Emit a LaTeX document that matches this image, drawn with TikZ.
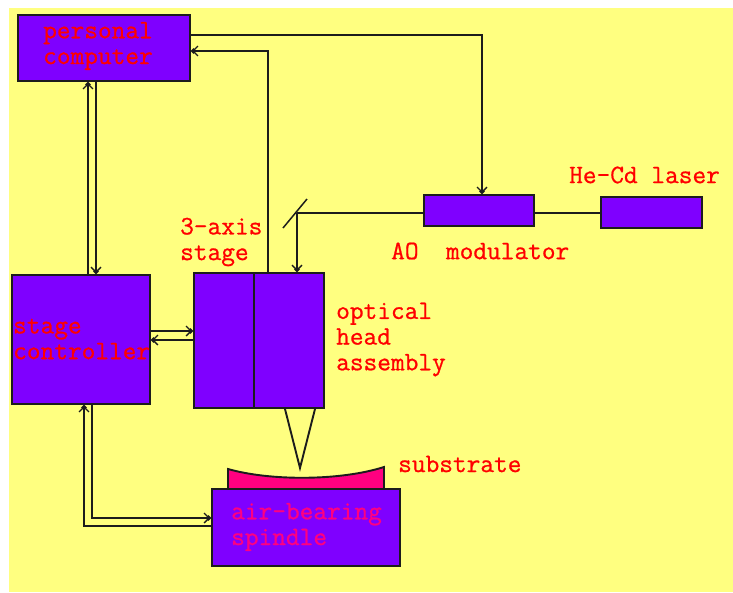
\documentclass[tikz,border=0pt]{standalone}
\usepackage{fontspec}
\setmainfont[FakeBold=0.8]{Latin Modern Mono}
\usetikzlibrary{arrows.meta,calc}
\definecolor{bgyellow}{HTML}{FFFF80}
\definecolor{boxviolet}{HTML}{7F00FF}
\definecolor{hotpink}{HTML}{FF0080}
\definecolor{linedark}{HTML}{1C1C1C}
\tikzset{
  block/.style={draw=linedark,fill=boxviolet,line width=2pt,rectangle,inner sep=0pt},
  wire/.style={draw=linedark,line width=1.9pt},
  thinwire/.style={draw=linedark,line width=1.5pt},
  arrowwire/.style={wire,-{Straight Barb[length=5pt,width=10pt,line width=1.3pt,sep=-4pt]Circle[length=5pt]}},
  lbl/.style={anchor=west,align=left,inner sep=0pt,text=red,font=\fontsize{26.6}{25.7}\selectfont},
  lblpink/.style={lbl,text=hotpink}
}
\begin{document}
\begin{tikzpicture}[x=1pt,y=-1pt]
\useasboundingbox (0,0) rectangle (733,592);
\fill[white] (0,0) rectangle (733,592);
\fill[bgyellow] (9,8) rectangle (733,592);
% substrate
\filldraw[draw=linedark,fill=hotpink,line width=1.9pt] (228,489) -- (228,469) .. controls (270,481) and (340,481) .. (384,467) -- (384,489) -- cycle;
% blocks
\node[block,minimum width=172pt,minimum height=66pt] (pc) at (104,48) {};
\node[block,minimum width=138pt,minimum height=129pt] (ctrl) at (81,339.5) {};
\node[block,minimum width=130pt,minimum height=135pt] (stage) at (259,340.5) {};
\node[block,minimum width=110pt,minimum height=31pt] (ao) at (479,210.5) {};
\node[block,minimum width=101pt,minimum height=31pt] (laser) at (651.5,212.5) {};
\node[block,minimum width=188pt,minimum height=77pt] (spindle) at (306,527.5) {};
% stage divider
\draw[wire] ([xshift=-5pt]stage.north) -- ([xshift=-5pt]stage.south);
% connectors
\coordinate (mirrorA) at (283,228);
\coordinate (mirrorB) at (307,199);
\coordinate (bend) at (297,213);
\coordinate (tip) at (300,468);
\draw[thinwire] (mirrorA) -- (mirrorB);
\draw[thinwire] (laser.west |- bend) -- (ao.east |- bend);
\draw[thinwire] (ao.west |- bend) -- (bend);
\draw[arrowwire] (bend) -- (bend |- stage.north);
\draw[arrowwire] ([yshift=13pt]pc.east) -| ([xshift=3pt]ao.north);
\draw[arrowwire] ([xshift=9pt]stage.north) |- ([yshift=-3pt]pc.east);
\draw[arrowwire] ([xshift=7pt]ctrl.north) -- ([xshift=7pt]ctrl.north |- pc.south);
\draw[arrowwire] ([xshift=-8pt]pc.south) -- ([xshift=-8pt]pc.south |- ctrl.north);
\draw[arrowwire] ([yshift=8.5pt]ctrl.east) -- ([yshift=8.5pt]ctrl.east -| stage.west);
\draw[arrowwire] ([yshift=0.5pt]stage.west) -- ([yshift=0.5pt]stage.west -| ctrl.east);
\draw[arrowwire] ([yshift=1.5pt]spindle.west) -| ([xshift=3pt]ctrl.south);
\draw[arrowwire] ([xshift=11pt]ctrl.south) |- ([yshift=9.5pt]spindle.west);
\draw[wire] ([xshift=-15pt]stage.south -| tip) -- (tip) -- ([xshift=15pt]stage.south -| tip);
% labels
\node[lbl] (tpc) at (43,46) {personal\\computer};
\node[lbl] (tctrl) at (13,339) {stage\\controller};
\node[lbl] (tstage) at (180,242) {3-axis\\stage};
\node[lbl] (thead) at (336,339.5) {optical\\head\\assembly};
\node[lbl] (tao) at (391,251) {AO\ \ modulator};
\node[lbl] (tlaser) at (569,175) {He-Cd laser};
\node[lbl] (tsub) at (398,464) {substrate};
\node[lblpink] (tspin) at (231,527) {air-bearing\\spindle};
\end{tikzpicture}
\end{document}
